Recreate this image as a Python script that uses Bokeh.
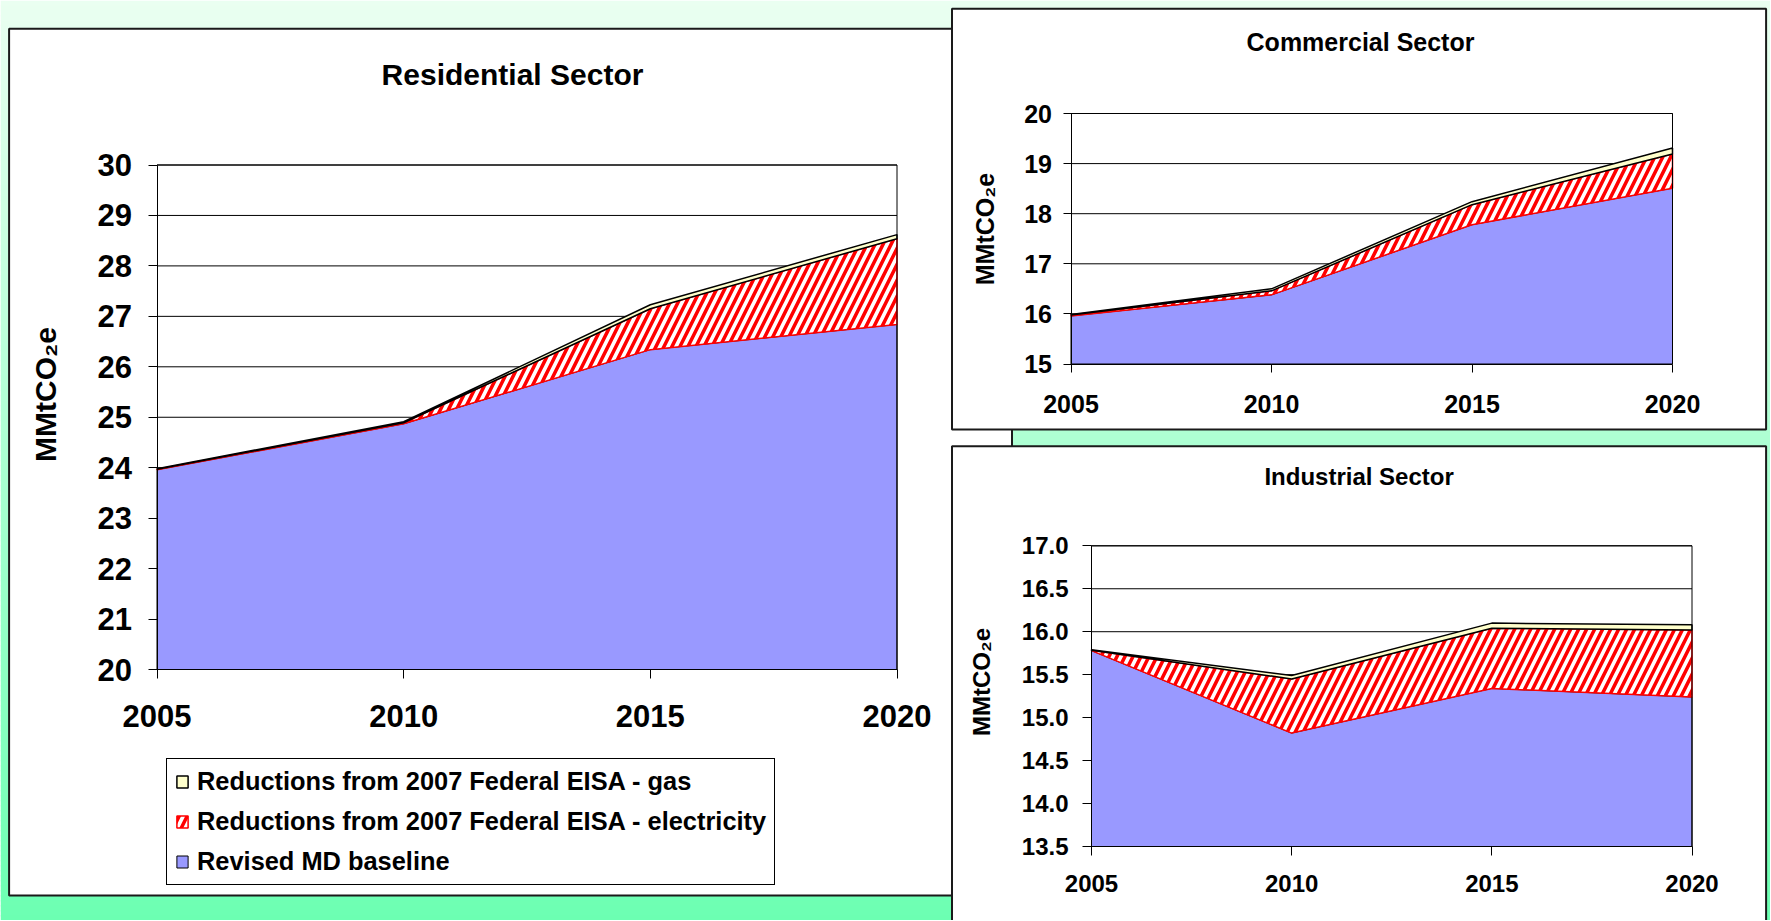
import numpy as np
from bokeh.plotting import figure
from bokeh.models import Range1d, LinearAxis, FixedTicker, Label, Legend, LegendItem
from bokeh.embed import file_html
from bokeh.resources import INLINE

# ---------------- data ----------------
years = [2005, 2010, 2015, 2020]
x_tick_labels = ["2005", "2010", "2015", "2020"]
series_names = [
    "Reductions from 2007 Federal EISA - gas",
    "Reductions from 2007 Federal EISA - electricity",
    "Revised MD baseline",
]
chart_titles = ["Residential Sector", "Commercial Sector", "Industrial Sector"]
y_axis_title = "MMtCO\u2082e"

res_baseline = [23.96, 24.87, 26.34, 26.84]
res_elec = [0.01, 0.02, 0.81, 1.70]
res_gas = [0.01, 0.02, 0.08, 0.08]

com_baseline = [15.96, 16.38, 17.78, 18.51]
com_elec = [0.02, 0.08, 0.40, 0.68]
com_gas = [0.01, 0.04, 0.06, 0.12]

ind_baseline = [15.78, 14.82, 15.34, 15.24]
ind_elec = [0.005, 0.63, 0.70, 0.78]
ind_gas = [0.005, 0.04, 0.06, 0.06]

res_yticks = [20, 21, 22, 23, 24, 25, 26, 27, 28, 29, 30]
res_ytick_labels = ["20", "21", "22", "23", "24", "25", "26", "27", "28", "29", "30"]
com_yticks = [15, 16, 17, 18, 19, 20]
com_ytick_labels = ["15", "16", "17", "18", "19", "20"]
ind_yticks = [13.5, 14.0, 14.5, 15.0, 15.5, 16.0, 16.5, 17.0]
ind_ytick_labels = ["13.5", "14.0", "14.5", "15.0", "15.5", "16.0", "16.5", "17.0"]

# ---------------- layout / style ----------------
W, H = 1770, 920
FONT = "Liberation Sans"
BLUE = "#9999FF"
CREAM = "#FFFFCC"
RED = "#FF0000"
PANEL_LINE = "#1a1a1a"

p = figure(width=W, height=H, x_range=Range1d(0, W), y_range=Range1d(H, 0),
           x_axis_type=None, y_axis_type=None, toolbar_location=None,
           output_backend="svg", min_border=0, outline_line_color=None)
p.background_fill_color = "white"
p.border_fill_color = "white"

# gradient page background (decoration)
top_rgb = np.array([234, 255, 241], dtype=float)
bot_rgb = np.array([108, 255, 178], dtype=float)
nb = 184
edges = np.linspace(0, H, nb + 1)
band_cols = []
for i in range(nb):
    t = ((edges[i] + edges[i + 1]) / 2) / 921.0
    c = top_rgb + (bot_rgb - top_rgb) * t
    band_cols.append("#%02x%02x%02x" % tuple(int(round(v)) for v in c))
p.quad(left=0, right=W, top=edges[:-1], bottom=edges[1:] + 0.8,
       fill_color=band_cols, line_color=None)


def panel(l, t, r, b):
    p.quad(left=l, right=r, top=t, bottom=b,
           fill_color="white", line_color=PANEL_LINE, line_width=2)


def overrides(ticks, labels):
    out = {}
    for t, l in zip(ticks, labels):
        k = int(t) if float(t).is_integer() else float(t)
        out[k] = l
    return out


def style_axis(ax, fs, tick_len, standoff):
    ax.axis_line_color = "black"
    ax.axis_line_width = 1
    ax.major_tick_line_color = "black"
    ax.major_tick_in = 0
    ax.major_tick_out = tick_len
    ax.minor_tick_in = 0
    ax.minor_tick_out = 0
    ax.major_label_text_font = FONT
    ax.major_label_text_font_style = "bold"
    ax.major_label_text_font_size = f"{fs}px"
    ax.major_label_text_color = "black"
    ax.major_label_standoff = standoff


def chart(name, box, ylim, base, elec, gas, yticks, ylabels, fs, tick_len,
          ystand, xstand):
    L, T, R, B = box
    x0, x1 = years[0], years[-1]
    y0, y1 = ylim
    kx = (R - L) / (x1 - x0)
    ky = (B - T) / (y1 - y0)
    p.extra_x_ranges = {**p.extra_x_ranges,
                        name: Range1d(x0 - L / kx, x0 + (W - L) / kx)}
    p.extra_y_ranges = {**p.extra_y_ranges,
                        name: Range1d(y0 - (H - B) / ky, y1 + T / ky)}
    kw = dict(x_range_name=name, y_range_name=name)

    # horizontal gridlines at the tick values
    p.segment(x0=[x0] * len(yticks), x1=[x1] * len(yticks), y0=yticks,
              y1=yticks, line_color="black", line_width=1, **kw)

    s1 = list(base)
    s2 = [a + b for a, b in zip(s1, elec)]
    s3 = [a + b for a, b in zip(s2, gas)]
    xs = years + years[::-1]
    r_base = p.patch(xs, s1 + [y0] * len(years), fill_color=BLUE,
                     line_color="black", line_width=1, **kw)
    r_elec = p.patch(xs, s2 + s1[::-1], fill_color="white",
                     hatch_pattern="/", hatch_color=RED, hatch_scale=16,
                     hatch_weight=3.5, line_color=RED, line_width=1.5, **kw)
    r_gas = p.patch(xs, s3 + s2[::-1], fill_color=CREAM, line_color="black",
                    line_width=1.5, **kw)
    # plot-area frame (top and right)
    p.line([x0, x1, x1], [y1, y1, y0], line_color="black", line_width=1, **kw)

    yax = LinearAxis(fixed_location=x0, bounds=(y0, y1),
                     ticker=FixedTicker(ticks=yticks),
                     major_label_overrides=overrides(yticks, ylabels), **kw)
    style_axis(yax, fs, tick_len, ystand)
    p.add_layout(yax, "left")
    xax = LinearAxis(fixed_location=y0, bounds=(x0, x1),
                     ticker=FixedTicker(ticks=years),
                     major_label_overrides=overrides(years, x_tick_labels), **kw)
    style_axis(xax, fs, tick_len, xstand)
    p.add_layout(xax, "below")
    return r_base, r_elec, r_gas


def text_label(x, y, text, fs, angle=0.0):
    p.add_layout(Label(x=x, y=y, text=text, text_font=FONT,
                       text_font_style="bold", text_font_size=f"{fs}px",
                       text_color="black", text_align="center",
                       text_baseline="middle", angle=angle))


# ---------------- residential ----------------
panel(8.6, 28.3, 1011.5, 895)
rb, re_, rg = chart("res", (156.5, 164.5, 896.5, 669), (20, 30),
                    res_baseline, res_elec, res_gas, res_yticks,
                    res_ytick_labels, 31, 9, 16, 26)
text_label(512, 74, chart_titles[0], 30)
text_label(45, 394, y_axis_title, 30, angle=np.pi / 2)

legend = Legend(items=[LegendItem(label=series_names[0], renderers=[rg]),
                       LegendItem(label=series_names[1], renderers=[re_]),
                       LegendItem(label=series_names[2], renderers=[rb])],
                location=(166, H - 885))
legend.border_line_color = "black"
legend.border_line_width = 1
legend.border_line_alpha = 1
legend.background_fill_color = "white"
legend.background_fill_alpha = 1
legend.padding = 8
legend.spacing = 11
legend.margin = 0
legend.glyph_width = 14
legend.glyph_height = 15
legend.label_standoff = 8
legend.label_text_font = FONT
legend.label_text_font_style = "bold"
legend.label_text_font_size = "25.4px"
legend.label_text_color = "black"
p.add_layout(legend)

# ---------------- commercial ----------------
panel(951.5, 8.3, 1765.6, 429)
chart("com", (1070.5, 113, 1672, 363.5), (15, 20), com_baseline, com_elec,
      com_gas, com_yticks, com_ytick_labels, 25, 8, 11, 23)
text_label(1360, 41, chart_titles[1], 25)
text_label(984, 228.5, y_axis_title, 25, angle=np.pi / 2)

# ---------------- industrial ----------------
panel(951.5, 445.7, 1765.6, 940)
chart("ind", (1091, 545.3, 1691.5, 846), (13.5, 17.0), ind_baseline,
      ind_elec, ind_gas, ind_yticks, ind_ytick_labels, 24, 9, 14, 19)
text_label(1358.6, 475.5, chart_titles[2], 24)
text_label(981, 681.5, y_axis_title, 24, angle=np.pi / 2)

open("out.html", "w").write(file_html(p, INLINE))
